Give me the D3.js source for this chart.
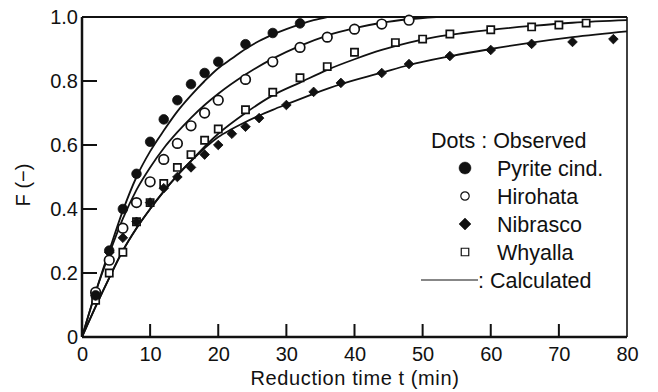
<!DOCTYPE html>
<html>
<head>
<meta charset="utf-8">
<script src="https://cdn.jsdelivr.net/npm/d3@7"></script>
<style>
  body { margin: 0; background: #fff; }
  svg text { font-family: "Liberation Sans", Arial, sans-serif; fill: #111; }
  .axis text { font-size: 20px; }
</style>
</head>
<body>
<div id="chart"></div>
<script>
// observed points, [t (min), F]
var pyriteObs = [[2,0.13],[4,0.27],[6,0.40],[8,0.51],[10,0.61],[12,0.68],[14,0.74],[16,0.79],[18,0.825],[20,0.86],[24,0.915],[28,0.95],[32,0.98]];
var hirohataObs = [[2,0.14],[4,0.24],[6,0.34],[8,0.42],[10,0.485],[12,0.555],[14,0.605],[16,0.66],[18,0.70],[20,0.74],[24,0.805],[28,0.86],[32,0.905],[36,0.937],[40,0.962],[44,0.978],[48,0.99]];
var nibrascoObs = [[2,0.13],[4,0.265],[6,0.31],[8,0.36],[10,0.42],[12,0.465],[14,0.50],[16,0.53],[18,0.57],[20,0.60],[22,0.635],[24,0.657],[26,0.684],[30,0.725],[34,0.766],[38,0.794],[44,0.825],[48,0.853],[54,0.878],[60,0.897],[66,0.916],[72,0.922],[78,0.931]];
var whyallaObs = [[2,0.115],[4,0.20],[6,0.265],[8,0.36],[10,0.42],[12,0.48],[14,0.53],[16,0.57],[18,0.615],[20,0.65],[24,0.71],[28,0.765],[32,0.81],[36,0.845],[40,0.89],[46,0.92],[50,0.931],[54,0.947],[60,0.96],[66,0.969],[70,0.975],[74,0.981]];

// calculated curves
var pyriteCalc = [[0,0],[2,0.14],[4,0.27],[6,0.395],[8,0.5],[10,0.58],[12,0.645],[14,0.705],[16,0.755],[18,0.8],[20,0.84],[22,0.87],[24,0.9],[26,0.925],[28,0.945],[30,0.962],[32,0.977],[34,0.99],[36,1.0]];
var hirohataCalc = [[0,0],[2,0.14],[4,0.26],[6,0.37],[8,0.46],[10,0.53],[12,0.59],[14,0.64],[16,0.685],[18,0.725],[20,0.76],[24,0.82],[28,0.87],[32,0.91],[36,0.942],[40,0.965],[44,0.982],[48,0.993],[52,1.0]];
var nibrascoCalc = [[0,0],[2,0.095],[4,0.185],[6,0.27],[8,0.34],[10,0.40],[12,0.455],[14,0.505],[16,0.55],[18,0.59],[20,0.625],[22,0.65],[24,0.672],[26,0.692],[28,0.71],[30,0.727],[34,0.76],[38,0.79],[44,0.826],[48,0.85],[54,0.877],[60,0.9],[66,0.92],[72,0.937],[80,0.955]];
var whyallaCalc = [[0,0],[2,0.095],[4,0.185],[6,0.27],[8,0.34],[10,0.40],[12,0.455],[14,0.505],[16,0.55],[18,0.595],[20,0.635],[24,0.70],[28,0.755],[32,0.795],[36,0.835],[40,0.868],[44,0.897],[48,0.92],[52,0.938],[56,0.95],[60,0.96],[66,0.972],[72,0.982],[80,0.99]];

var xTicks = [0,10,20,30,40,50,60,70,80];
var yTicks = [0,0.2,0.4,0.6,0.8,1.0];
var legendNames = ["Pyrite cind.", "Hirohata", "Nibrasco", "Whyalla"];

var width = 658, height = 392;
var svg = d3.select("#chart").append("svg")
    .attr("width", width)
    .attr("height", height);

var x = d3.scaleLinear().domain([0, 80]).range([82, 627]);
var y = d3.scaleLinear().domain([0, 1]).range([337, 17]);

// frame
svg.append("line").attr("x1", 82).attr("x2", 627).attr("y1", 17).attr("y2", 17)
    .attr("stroke", "#111").attr("stroke-width", 2);
svg.append("line").attr("x1", 627).attr("x2", 627).attr("y1", 17).attr("y2", 337)
    .attr("stroke", "#111").attr("stroke-width", 1.6);

var xAxis = d3.axisBottom(x)
    .tickValues(xTicks)
    .tickFormat(d3.format("d"))
    .tickSize(0)
    .tickPadding(9);

var yAxis = d3.axisLeft(y)
    .tickValues(yTicks)
    .tickFormat(function(d) { return d === 0 ? "0" : d3.format(".1f")(d); })
    .tickSize(0)
    .tickPadding(4);

var gx = svg.append("g").attr("class", "axis")
    .attr("transform", "translate(0,337)")
    .call(xAxis);
gx.select(".domain").remove();
gx.selectAll("text").attr("fill", "#111").attr("dy", "0.75em");

var gy = svg.append("g").attr("class", "axis")
    .attr("transform", "translate(82,0)")
    .call(yAxis);
gy.select(".domain").remove();
gy.selectAll("text").attr("fill", "#111");

// inward tick marks
svg.append("g").selectAll("line")
    .data(xTicks.filter(function(d) { return d > 0 && d < 80; }))
    .enter().append("line")
    .attr("x1", function(d) { return x(d); })
    .attr("x2", function(d) { return x(d); })
    .attr("y1", y(0))
    .attr("y2", y(0) - 13)
    .attr("stroke", "#111")
    .attr("stroke-width", 2);

svg.append("g").selectAll("line")
    .data(yTicks.filter(function(d) { return d > 0 && d < 1; }))
    .enter().append("line")
    .attr("x1", x(0))
    .attr("x2", x(0) + 15)
    .attr("y1", function(d) { return y(d); })
    .attr("y2", function(d) { return y(d); })
    .attr("stroke", "#111")
    .attr("stroke-width", 2);

svg.append("line").attr("x1", 82).attr("x2", 627).attr("y1", 337).attr("y2", 337)
    .attr("stroke", "#111").attr("stroke-width", 2.5);
svg.append("line").attr("x1", 82).attr("x2", 82).attr("y1", 17).attr("y2", 337)
    .attr("stroke", "#111").attr("stroke-width", 2.5);

// axis titles
svg.append("text")
    .attr("x", 355)
    .attr("y", 385)
    .attr("text-anchor", "middle")
    .style("font-size", "20px")
    .style("letter-spacing", "0.6px")
    .text("Reduction time t (min)");

svg.append("text")
    .attr("transform", "translate(30,185) rotate(-90)")
    .attr("text-anchor", "middle")
    .style("font-size", "20px")
    .text("F  (\u2212)");

// calculated curves
var line = d3.line()
    .x(function(d) { return x(d[0]); })
    .y(function(d) { return y(d[1]); })
    .curve(d3.curveMonotoneX);

[pyriteCalc, hirohataCalc, nibrascoCalc, whyallaCalc].forEach(function(c) {
    svg.append("path")
        .datum(c)
        .attr("fill", "none")
        .attr("stroke", "#111")
        .attr("stroke-width", 1.8)
        .attr("d", line);
});

// markers
var circleSym = d3.symbol().type(d3.symbolCircle);
var squareSym = d3.symbol().type(d3.symbolSquare);

function drawMarks(data, kind) {
    var g = svg.append("g");
    g.selectAll("path")
        .data(data)
        .enter().append("path")
        .attr("transform", function(d) {
            var t = "translate(" + x(d[0]) + "," + y(d[1]) + ")";
            return kind === "diamond" ? t + " rotate(45)" : t;
        })
        .attr("d", function() {
            if (kind === "filledCircle") return circleSym.size(Math.PI * 4.8 * 4.8)();
            if (kind === "openCircle") return circleSym.size(Math.PI * 4.8 * 4.8)();
            if (kind === "diamond") return squareSym.size(6.8 * 6.8)();
            return squareSym.size(7.2 * 7.2)();
        })
        .attr("fill", function() { return (kind === "filledCircle" || kind === "diamond") ? "#111" : "#fff"; })
        .attr("stroke", "#111")
        .attr("stroke-width", kind === "filledCircle" || kind === "diamond" ? 0.8 : 1.7);
}

drawMarks(whyallaObs, "openSquare");
drawMarks(nibrascoObs, "diamond");
drawMarks(hirohataObs, "openCircle");
drawMarks(pyriteObs, "filledCircle");

// legend
var legendY = [168, 196, 224, 252];
var legendKinds = ["filledCircle", "openCircle", "diamond", "openSquare"];

svg.append("text")
    .attr("x", 431)
    .attr("y", 148)
    .style("font-size", "21.5px")
    .text("Dots : Observed");

var leg = svg.selectAll(".legend")
    .data(legendNames)
    .enter().append("g")
    .attr("class", "legend")
    .attr("transform", function(d, i) { return "translate(0," + legendY[i] + ")"; });

leg.append("path")
    .attr("transform", function(d, i) {
        return "translate(465,0)" + (legendKinds[i] === "diamond" ? " rotate(45)" : "");
    })
    .attr("d", function(d, i) {
        var k = legendKinds[i];
        if (k === "filledCircle") return circleSym.size(Math.PI * 6 * 6)();
        if (k === "openCircle") return circleSym.size(Math.PI * 4.2 * 4.2)();
        if (k === "diamond") return squareSym.size(8.5 * 8.5)();
        return squareSym.size(7.5 * 7.5)();
    })
    .attr("fill", function(d, i) { return (legendKinds[i] === "filledCircle" || legendKinds[i] === "diamond") ? "#111" : "#fff"; })
    .attr("stroke", "#111")
    .attr("stroke-width", function(d, i) { return (legendKinds[i] === "openCircle" || legendKinds[i] === "openSquare") ? 1.2 : 0.5; });

leg.append("text")
    .attr("x", 497)
    .attr("y", 8)
    .style("font-size", "21.5px")
    .text(function(d) { return d; });

svg.append("line")
    .attr("x1", 421).attr("x2", 478)
    .attr("y1", 280).attr("y2", 280)
    .attr("stroke", "#111").attr("stroke-width", 1.2);

svg.append("text")
    .attr("x", 478)
    .attr("y", 288)
    .style("font-size", "21.5px")
    .text(": Calculated");
</script>
</body>
</html>
